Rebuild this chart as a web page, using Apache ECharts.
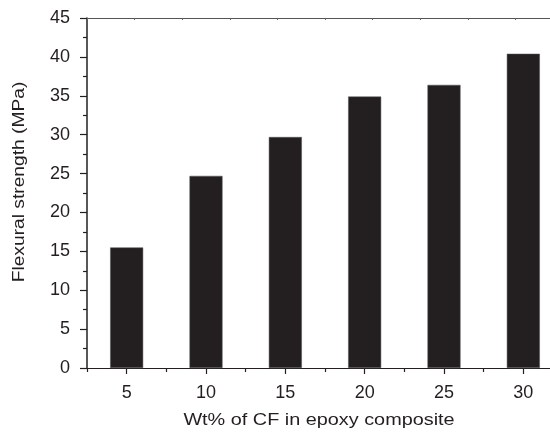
<!DOCTYPE html>
<html><head><meta charset="utf-8">
<script src="https://cdn.jsdelivr.net/npm/echarts@6/dist/echarts.min.js"></script>
<style>html,body{margin:0;padding:0;background:#fff}#c{width:550px;height:438px}</style>
</head><body><div id="c"></div>
<script>
const categories = ['5', '10', '15', '20', '25', '30'];
const flexuralStrength = [15.5, 24.7, 29.7, 34.9, 36.4, 40.4];
const xTitle = 'Wt% of CF in epoxy composite';
const yTitle = 'Flexural strength (MPa)';

const ink = '#231f20';
const font = '"Liberation Sans", Arial, Helvetica, sans-serif';
const chart = echarts.init(document.getElementById('c'));
chart.setOption({
  animation: false,
  backgroundColor: '#fff',
  grid: { left: 87, top: 18, width: 476, height: 350, outerBoundsMode: 'none', containLabel: false },
  xAxis: [
    { type: 'category', data: categories, position: 'bottom',
      axisLine: { show: true, lineStyle: { color: ink, width: 1.2 } },
      axisTick: { show: true, alignWithLabel: true, length: 6, lineStyle: { color: ink, width: 1.2 } },
      axisLabel: { color: ink, fontSize: 18, fontFamily: font, margin: 16 },
      splitLine: { show: false } },
    { type: 'category', data: categories, position: 'bottom',
      axisLine: { show: false },
      axisTick: { show: true, length: 4, lineStyle: { color: ink, width: 1.2 } },
      axisLabel: { show: false }, splitLine: { show: false } },
    { type: 'value', min: 0, max: 10, interval: 1, position: 'top',
      axisLine: { show: true, lineStyle: { color: '#555', width: 1.2 } },
      axisTick: { show: true, inside: true, length: 2, lineStyle: { color: '#666', width: 1 } },
      axisLabel: { show: false }, splitLine: { show: false } }
  ],
  yAxis: {
    type: 'value', min: 0, max: 45, interval: 5,
    axisLine: { show: true, lineStyle: { color: ink, width: 1.5 } },
    axisTick: { show: true, length: 7, lineStyle: { color: ink, width: 1.2 } },
    minorTick: { show: true, splitNumber: 2, length: 4, lineStyle: { color: ink, width: 1.2 } },
    axisLabel: { color: ink, fontSize: 18, fontFamily: font, margin: 17 },
    splitLine: { show: false }
  },
  graphic: [
    { type: 'text', x: 319, y: 421, scaleX: 1.24,
      style: { text: xTitle, fill: ink, font: '16px ' + font, align: 'center', verticalAlign: 'middle' } },
    { type: 'text', x: 20, y: 182, rotation: Math.PI / 2, scaleX: 1.2,
      style: { text: yTitle, fill: ink, font: '16px ' + font, align: 'center', verticalAlign: 'middle' } }
  ],
  series: [{
    type: 'bar', xAxisIndex: 0, data: flexuralStrength, barWidth: 33,
    itemStyle: { color: ink, borderColor: '#555', borderWidth: 0.5 }
  }]
});
</script></body></html>
